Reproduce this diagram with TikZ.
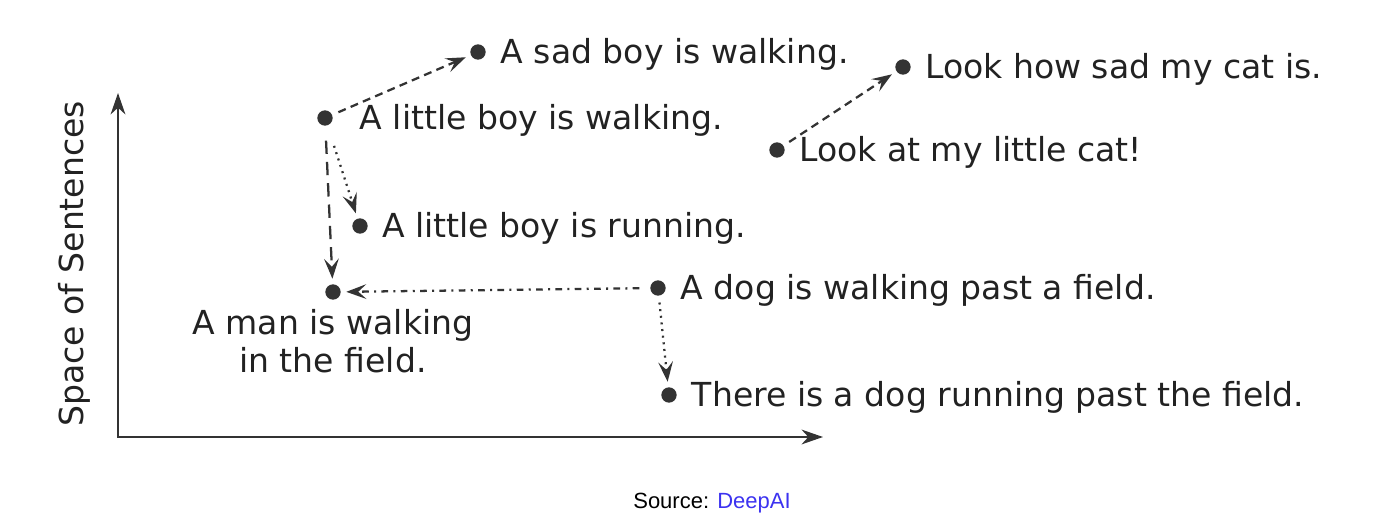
\documentclass[tikz,border=0pt]{standalone}
\usepackage{fontspec}
\setmainfont{DejaVu Sans}
\newfontfamily\srcfont{Liberation Sans}
\usetikzlibrary{arrows.meta,positioning}
\definecolor{ink}{HTML}{222222}
\definecolor{dotgray}{HTML}{333333}
\definecolor{linkblue}{RGB}{60,50,240}

\begin{document}
\begin{tikzpicture}[x=0.75pt,y=-0.75pt,>=Stealth,
  sdot/.style={circle,fill=dotgray,inner sep=0pt,minimum size=11.5pt},
  sent/.style={inner sep=0pt,text=ink,font=\fontsize{24.8}{28.5}\selectfont},
  sentr/.style={sent,anchor=mid west,yshift=-6pt},
  link/.style={->,line width=1.7pt,draw=dotgray,shorten <=5pt,shorten >=4pt,
    >={Stealth[length=15pt,width=11pt,inset=6pt]}},
  dashlink/.style={link,dash pattern=on 6pt off 4pt},
  longlink/.style={link,dash pattern=on 10pt off 6pt},
  dotlink/.style={link,dash pattern=on 1.5pt off 3.5pt},
  dashdotlink/.style={link,dash pattern=on 5pt off 4pt on 1.5pt off 4pt}]
\useasboundingbox (0,0) rectangle (1386,527);
% axes
\coordinate (O) at (118,437);
\coordinate (ytip) at (118,93);
\coordinate (xtip) at (823,437);
\draw[<->,line width=2pt,draw=dotgray,>={Stealth[length=16pt,width=11pt,inset=5pt]}]
  (ytip) -- (O) -- (xtip);
\node[sent,rotate=90,anchor=base] (ylab) at (83,264) {Space of Sentences};
% sentences
\node[sdot] (sadboy) at (478,52) {};
\node[sdot] (walking) at (325,118) {};
\node[sdot] (running) at (360,226) {};
\node[sdot] (man) at (333,292) {};
\node[sdot] (dogwalk) at (658,288) {};
\node[sdot] (dogrun) at (669,395) {};
\node[sdot] (sadcat) at (903,67) {};
\node[sdot] (mycat) at (777,150) {};
\node[sentr] (sadboyT) at ([xshift=11pt]sadboy.east) {A sad boy is walking.};
\node[sentr] (walkingT) at ([xshift=20pt]walking.east) {A little boy is walking.};
\node[sentr] (runningT) at ([xshift=10.5pt]running.east) {A little boy is running.};
\node[sent,align=center,below=7pt of man] (manT) {A man is walking\\in the field.};
\node[sentr] (dogwalkT) at ([xshift=11pt]dogwalk.east) {A dog is walking past a field.};
\node[sentr] (dogrunT) at ([xshift=11pt]dogrun.east) {There is a dog running past the field.};
\node[sentr] (sadcatT) at ([xshift=10.5pt]sadcat.east) {Look how sad my cat is.};
\node[sentr] (mycatT) at ([xshift=10.5pt]mycat.east) {Look at my little cat!};
% moves
\draw[dashlink] (walking) -- (sadboy);
\draw[dotlink,shorten <=16pt] (walking) -- (running);
\draw[longlink,shorten <=11pt] (walking) -- (man);
\draw[dashdotlink,shorten <=8pt] (dogwalk) -- (man);
\draw[dotlink] (dogwalk) -- (dogrun);
\draw[dashlink] (mycat) -- (sadcat);
% source
\node[anchor=base,font=\srcfont\fontsize{16.5}{20}\selectfont] (source) at (712,508)
  {Source: \textcolor{linkblue}{DeepAI}};
\end{tikzpicture}
\end{document}
